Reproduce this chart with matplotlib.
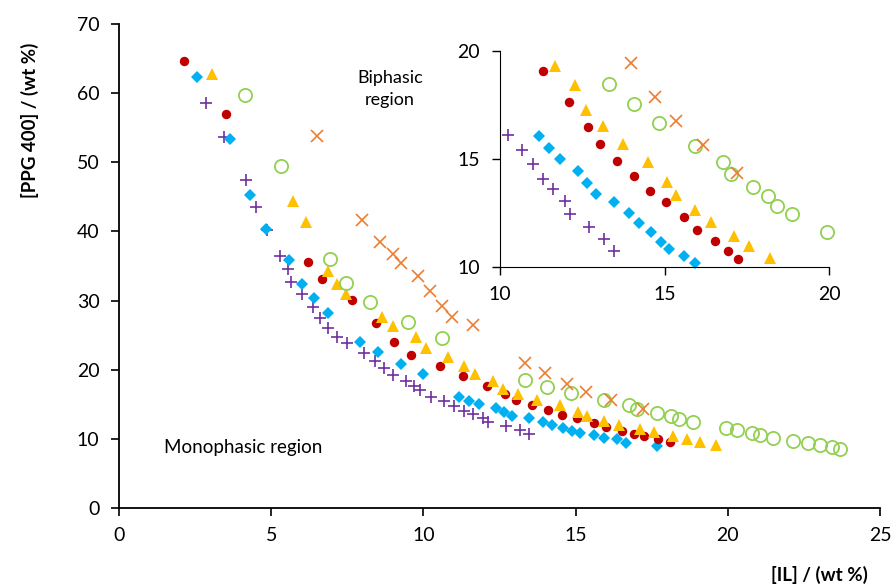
import matplotlib
matplotlib.use("Agg")
import matplotlib.pyplot as plt

plt.rcParams['font.family'] = ['Lato', 'DejaVu Sans']

# ---- data (IL wt %, PPG 400 wt %) ----
red_x = [2.14, 3.53, 6.21, 6.66, 7.65, 8.44, 9.03, 9.59, 10.55, 11.30, 12.09, 12.69, 13.03, 13.57,
         14.08, 14.56, 15.06, 15.60, 15.99, 16.52, 16.92, 17.24, 17.72, 18.10]
red_y = [64.6, 57.0, 35.6, 33.1, 30.1, 26.8, 24.0, 22.1, 20.6, 19.10, 17.66, 16.47, 15.68, 14.92,
         14.20, 13.50, 13.02, 12.29, 11.72, 11.19, 10.74, 10.36, 9.97, 9.60]

blue_x = [2.57, 3.66, 4.29, 4.84, 5.60, 6.00, 6.39, 6.88, 7.92, 8.52, 9.25, 10.00, 11.18, 11.49,
          11.82, 12.37, 12.65, 12.92, 13.48, 13.92, 14.24, 14.58, 14.89, 15.15, 15.59, 15.93,
          16.35, 16.66, 17.66]
blue_y = [62.3, 53.4, 45.2, 40.3, 35.9, 32.4, 30.4, 28.2, 24.0, 22.5, 20.8, 19.4, 16.07, 15.50,
          15.00, 14.43, 13.87, 13.37, 12.99, 12.48, 12.01, 11.63, 11.15, 10.84, 10.50, 10.15,
          9.93, 9.35, 8.97]

yellow_x = [3.07, 5.72, 6.14, 6.86, 7.15, 7.45, 8.65, 8.99, 9.76, 10.07, 10.82, 11.34, 11.69, 12.29,
            12.62, 13.12, 13.73, 14.49, 15.07, 15.36, 15.94, 16.41, 17.12, 17.57, 18.20, 18.67,
            19.10, 19.60]
yellow_y = [62.7, 44.4, 41.3, 34.3, 32.4, 31.0, 27.6, 26.3, 24.7, 23.2, 21.9, 20.6, 19.33, 18.44,
            17.26, 16.55, 15.68, 14.85, 13.95, 13.33, 12.63, 12.06, 11.41, 10.98, 10.42, 9.97,
            9.60, 9.10]

green_x = [4.14, 5.33, 6.92, 7.46, 8.25, 9.51, 10.61, 13.33, 14.06, 14.84, 15.92, 16.76, 17.03,
           17.69, 18.15, 18.40, 18.87, 19.93, 20.30, 20.81, 21.05, 21.47, 22.15, 22.62, 23.04,
           23.41, 23.70]
green_y = [59.8, 49.5, 36.0, 32.6, 29.8, 26.9, 24.6, 18.48, 17.55, 16.67, 15.59, 14.86, 14.30,
           13.70, 13.28, 12.82, 12.45, 11.61, 11.30, 10.85, 10.50, 10.10, 9.73, 9.40, 9.06,
           8.77, 8.50]

purple_x = [2.85, 3.46, 4.16, 4.51, 4.87, 5.30, 5.54, 5.64, 6.02, 6.36, 6.61, 6.88, 7.15, 7.50,
            8.05, 8.42, 8.71, 9.00, 9.42, 9.70, 9.89, 10.24, 10.67, 11.00, 11.32, 11.63, 11.97,
            12.13, 12.72, 13.16, 13.48]
purple_y = [58.6, 53.6, 47.5, 43.5, 40.2, 36.5, 34.5, 32.7, 31.0, 29.1, 27.5, 26.1, 24.8, 23.8,
            22.4, 21.3, 20.2, 19.2, 18.3, 17.7, 17.1, 16.10, 15.42, 14.77, 14.09, 13.60, 13.03,
            12.46, 11.83, 11.27, 10.74]

orange_x = [6.49, 7.97, 8.59, 9.01, 9.26, 9.83, 10.22, 10.60, 10.95, 11.64, 13.34, 13.99, 14.71,
            15.34, 16.16, 17.21]
orange_y = [53.8, 41.6, 38.5, 36.8, 35.4, 33.5, 31.4, 29.2, 27.6, 26.4, 20.9, 19.47, 17.89,
            16.76, 15.65, 14.33]

x_ticks = [0, 5, 10, 15, 20, 25]
y_ticks = [0, 10, 20, 30, 40, 50, 60, 70]
inset_ticks = [10, 15, 20]
inset_lo, inset_hi = 10, 20

RED, BLUE, YELLOW = '#C00000', '#00B0F0', '#FFC000'
GREEN, PURPLE, ORANGE = '#92D050', '#7030A0', '#ED7D31'

STYLES = [
    (purple_x, purple_y, dict(marker='+', ms=8.5, mew=1.2, color=PURPLE)),
    (blue_x, blue_y, dict(marker='D', ms=6.3, mew=0, color=BLUE)),
    (red_x, red_y, dict(marker='o', ms=6.8, mew=0, color=RED)),
    (yellow_x, yellow_y, dict(marker='^', ms=8.3, mew=0, color=YELLOW)),
    (green_x, green_y, dict(marker='o', ms=9.5, mew=1.3, mfc='none', mec=GREEN)),
    (orange_x, orange_y, dict(marker='x', ms=9, mew=1.2, color=ORANGE)),
]


def draw(ax, inset=False):
    for xs, ys, kw in STYLES:
        if inset:
            pts = [(x, y) for x, y in zip(xs, ys)
                   if inset_lo + 0.05 < x < inset_hi + 0.05 and inset_lo + 0.05 < y < inset_hi]
            xs = [p[0] for p in pts]
            ys = [p[1] for p in pts]
        ax.plot(xs, ys, ls='none', clip_on=not inset, **kw)


fig = plt.figure(figsize=(8.96, 5.85), dpi=100)
ax = fig.add_axes([119 / 896, 1 - 508 / 585, (880 - 119) / 896, (508 - 24) / 585])
draw(ax)
ax.set_xlim(0, 25)
ax.set_ylim(0, 70)
ax.set_xticks(x_ticks)
ax.set_yticks(y_ticks)
for s in ['top', 'right']:
    ax.spines[s].set_visible(False)
for s in ['left', 'bottom']:
    ax.spines[s].set_linewidth(1.3)
ax.tick_params(direction='out', length=6, width=1.2, labelsize=14, pad=8)
ax.set_xlabel('[IL] / (wt %)', fontsize=13.5, fontweight='bold')
ax.xaxis.set_label_coords(0.92, -0.12)
ax.set_ylabel('[PPG 400] / (wt %)', fontsize=13.5, fontweight='bold')
ax.yaxis.set_label_coords(-0.105, 0.8)

ax.text(8.9, 60.6, 'Biphasic\nregion', fontsize=13, ha='center', va='center', linespacing=1.45)
ax.text(4.07, 8.7, 'Monophasic region', fontsize=13.5, ha='center', va='center')

ins = fig.add_axes([499.7 / 896, 1 - 266.7 / 585, 329.6 / 896, 215.4 / 585])
ins.patch.set_alpha(0)
draw(ins, inset=True)
ins.set_xlim(inset_lo, inset_hi)
ins.set_ylim(inset_lo, inset_hi)
ins.set_xticks(inset_ticks)
ins.set_yticks(inset_ticks)
for s in ['top', 'right']:
    ins.spines[s].set_visible(False)
ins.tick_params(direction='out', length=6, width=1.0, labelsize=14, pad=8)

fig.savefig('out.png', dpi=100)
